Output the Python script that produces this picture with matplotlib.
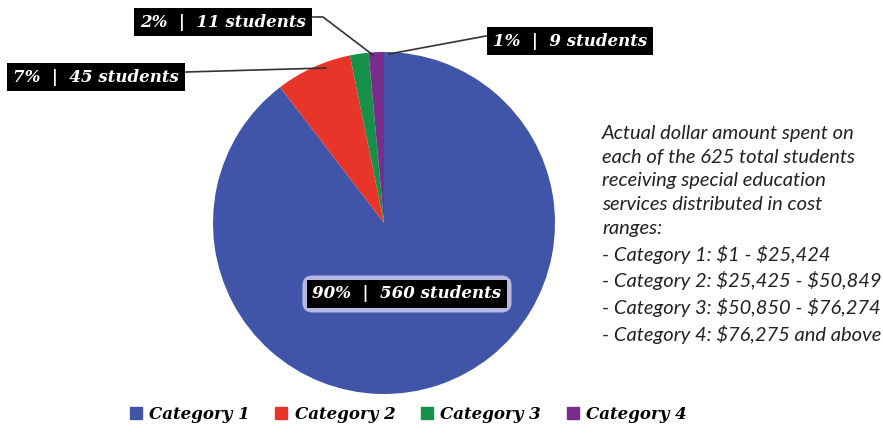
import matplotlib.pyplot as plt
from matplotlib.lines import Line2D

# Datos del grafico
categorias = ['Category 1', 'Category 2', 'Category 3', 'Category 4']
estudiantes = [560, 45, 11, 9]
porcentajes = ['90%', '7%', '2%', '1%']
colores = ['#4055A8', '#E8352A', '#17904A', '#7A2D8A']

nota = ("Actual dollar amount spent on\n"
        "each of the 625 total students\n"
        "receiving special education\n"
        "services distributed in cost\n"
        "ranges:\n"
        "- Category 1: $1 - $25,424\n"
        "- Category 2: $25,425 - $50,849\n"
        "- Category 3: $50,850 - $76,274\n"
        "- Category 4: $76,275 and above")

plt.rcParams['text.parse_math'] = False

W, H = 883, 443
fig = plt.figure(figsize=(W / 100, H / 100), dpi=100)
ax = fig.add_axes([0, 0, 1, 1])

# Torta en coordenadas de pixel (y hacia arriba)
cx, cy, r = 384, H - 223, 171
ax.pie(estudiantes, colors=colores, startangle=90, counterclock=False,
       center=(cx, cy), radius=r, frame=True,
       wedgeprops=dict(edgecolor='none'))
ax.set_xlim(0, W)
ax.set_ylim(0, H)
ax.set_aspect('equal')
ax.axis('off')

fuente = dict(family='DejaVu Serif', weight='bold', style='italic', size=12)
caja = dict(facecolor='black', edgecolor='none', boxstyle='square,pad=0.35')

etiquetas = [f'{p}  |  {n} students' for p, n in zip(porcentajes, estudiantes)]

# 90% dentro de la torta con un brillo lila
ax.text(407, H - 294, etiquetas[0], color='white', ha='center', va='center',
        bbox=dict(facecolor='#D6D0F4', edgecolor='none', alpha=0.8, boxstyle='round,pad=0.6'), **fuente)
ax.text(407, H - 294, etiquetas[0], color='white', ha='center', va='center',
        bbox=caja, **fuente)

# 7%
ax.text(96, H - 77, etiquetas[1], color='white', ha='center', va='center', bbox=caja, **fuente)
ax.plot([186, 326], [H - 72, H - 68], color='#333333', lw=1.2)

# 2%
ax.text(223, H - 22, etiquetas[2], color='white', ha='center', va='center', bbox=caja, **fuente)
ax.plot([313, 323, 373], [H - 17, H - 17, H - 55], color='#333333', lw=1.2)

# 1%
ax.text(570, H - 41, etiquetas[3], color='white', ha='center', va='center', bbox=caja, **fuente)
ax.plot([486, 389], [H - 36, H - 54], color='#333333', lw=1.2)

# Nota de la derecha
ax.text(602, H - 125, nota, ha='left', va='top', family='Lato', style='italic',
        size=14.5, linespacing=1.48, color='#222222')

# Leyenda
manijas = [Line2D([], [], marker='s', ls='none', color=c, markersize=8) for c in colores]
ax.legend(manijas, categorias, loc='lower center', bbox_to_anchor=(0.462, 0.012),
          ncol=4, frameon=False, handlelength=0.8, handletextpad=0.4, columnspacing=1.5,
          prop=dict(family='DejaVu Serif', weight='bold', style='italic', size=12))

fig.savefig('out.png', dpi=100)
